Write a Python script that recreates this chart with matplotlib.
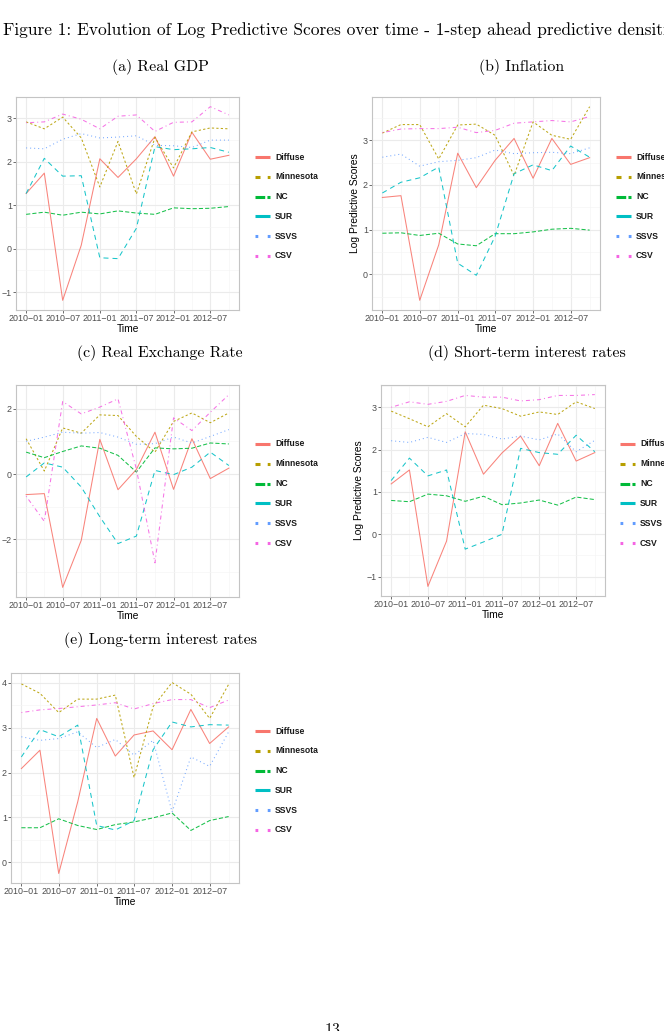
import matplotlib
matplotlib.use('Agg')
import matplotlib.pyplot as plt
import matplotlib.dates as mdates
from matplotlib.ticker import MultipleLocator
from matplotlib.lines import Line2D
import pandas as pd

# quarterly forecast origins
quarters = pd.date_range('2010-01-01', periods=12, freq='QS')
models = ['Diffuse', 'Minnesota', 'NC', 'SUR', 'SSVS', 'CSV']

# log predictive scores, one dict per variable
gdp = {
    'Diffuse':   [1.27, 1.74, -1.19, 0.08, 2.07, 1.64, 2.07, 2.58, 1.67, 2.68, 2.06, 2.15],
    'Minnesota': [2.92, 2.76, 3.03, 2.55, 1.42, 2.47, 1.26, 2.56, 1.86, 2.69, 2.78, 2.76],
    'NC':        [0.79, 0.84, 0.77, 0.84, 0.80, 0.87, 0.82, 0.79, 0.94, 0.92, 0.93, 0.97],
    'SUR':       [1.27, 2.08, 1.67, 1.68, -0.21, -0.23, 0.47, 2.35, 2.28, 2.30, 2.33, 2.22],
    'SSVS':      [2.32, 2.30, 2.52, 2.65, 2.55, 2.57, 2.60, 2.38, 2.37, 2.33, 2.50, 2.50],
    'CSV':       [2.90, 2.92, 3.10, 2.98, 2.76, 3.05, 3.08, 2.70, 2.91, 2.92, 3.27, 3.08],
}
inflation = {
    'Diffuse':   [1.72, 1.76, -0.58, 0.66, 2.71, 1.94, 2.55, 3.04, 2.15, 3.04, 2.46, 2.61],
    'Minnesota': [3.16, 3.35, 3.35, 2.58, 3.34, 3.36, 3.11, 2.21, 3.41, 3.11, 3.02, 3.75],
    'NC':        [0.92, 0.93, 0.87, 0.92, 0.68, 0.64, 0.91, 0.91, 0.95, 1.01, 1.03, 0.99],
    'SUR':       [1.82, 2.06, 2.16, 2.40, 0.25, -0.02, 0.85, 2.25, 2.45, 2.32, 2.87, 2.62],
    'SSVS':      [2.62, 2.69, 2.42, 2.52, 2.55, 2.61, 2.78, 2.70, 2.72, 2.73, 2.70, 2.83],
    'CSV':       [3.17, 3.25, 3.26, 3.26, 3.29, 3.17, 3.22, 3.38, 3.41, 3.44, 3.41, 3.53],
}
exchange = {
    'Diffuse':   [-0.63, -0.60, -3.47, -2.03, 1.06, -0.48, 0.14, 1.28, -0.47, 1.08, -0.14, 0.18],
    'Minnesota': [1.08, 0.09, 1.41, 1.25, 1.81, 1.79, 1.15, 0.67, 1.61, 1.87, 1.57, 1.87],
    'NC':        [0.67, 0.50, 0.69, 0.86, 0.79, 0.57, 0.06, 0.80, 0.77, 0.79, 0.95, 0.92],
    'SUR':       [-0.09, 0.34, 0.21, -0.40, -1.31, -2.13, -1.90, 0.11, -0.02, 0.21, 0.67, 0.26],
    'SSVS':      [1.00, 1.13, 1.28, 1.25, 1.27, 1.13, 0.91, 0.93, 1.13, 0.95, 1.15, 1.36],
    'CSV':       [-0.68, -1.45, 2.22, 1.84, 2.05, 2.30, 0.15, -2.72, 1.72, 1.33, 1.89, 2.43],
}
short_rate = {
    'Diffuse':   [1.19, 1.52, -1.23, -0.16, 2.42, 1.42, 1.92, 2.32, 1.62, 2.62, 1.73, 1.93],
    'Minnesota': [2.91, 2.73, 2.54, 2.85, 2.54, 3.05, 2.97, 2.79, 2.89, 2.83, 3.13, 2.97],
    'NC':        [0.80, 0.77, 0.95, 0.91, 0.78, 0.90, 0.70, 0.74, 0.81, 0.69, 0.88, 0.82],
    'SUR':       [1.27, 1.80, 1.38, 1.52, -0.35, -0.18, 0.00, 2.03, 1.93, 1.89, 2.34, 1.95],
    'SSVS':      [2.21, 2.17, 2.29, 2.17, 2.38, 2.36, 2.25, 2.32, 2.23, 2.37, 1.95, 2.22],
    'CSV':       [3.00, 3.13, 3.07, 3.14, 3.28, 3.24, 3.24, 3.15, 3.18, 3.28, 3.28, 3.30],
}
long_rate = {
    'Diffuse':   [2.09, 2.50, -0.25, 1.35, 3.21, 2.37, 2.84, 2.93, 2.51, 3.41, 2.65, 3.02],
    'Minnesota': [3.98, 3.77, 3.34, 3.64, 3.64, 3.73, 1.89, 3.47, 4.01, 3.75, 3.21, 3.97],
    'NC':        [0.77, 0.77, 0.97, 0.82, 0.73, 0.84, 0.90, 0.99, 1.10, 0.71, 0.93, 1.02],
    'SUR':       [2.35, 2.96, 2.80, 3.06, 0.82, 0.72, 0.93, 2.51, 3.13, 3.02, 3.07, 3.06],
    'SSVS':      [2.80, 2.72, 2.76, 2.91, 2.56, 2.74, 2.39, 2.72, 1.12, 2.35, 2.14, 2.91],
    'CSV':       [3.34, 3.40, 3.43, 3.47, 3.51, 3.56, 3.42, 3.54, 3.63, 3.63, 3.45, 3.62],
}

# ggplot hue palette and linetypes
colors = ['#F8766D', '#B79F00', '#00BA38', '#00BFC4', '#619CFF', '#F564E3']
dashes = [None, (1.6, 1.6), (3.0, 1.5), (3.6, 2.9), (0.7, 2.2), (0.7, 2.2, 2.9, 2.2)]
key_dashes = [None, (3.6, 5.2), (7.0, 1.6), None, (2.0, 6.8), (2.0, 6.8)]

plt.rcParams['font.family'] = 'Liberation Sans'
plt.rcParams['lines.scale_dashes'] = False

W, H = 664, 1031
fig = plt.figure(figsize=(W / 100, H / 100), dpi=100)
fig.patch.set_facecolor('white')


def px_axes(x0, y0, x1, y1):
    return fig.add_axes([x0 / W, 1 - y1 / H, (x1 - x0) / W, (y1 - y0) / H])


def draw_panel(rect, data, step, ylabel, legend_x, legend_y):
    ax = px_axes(*rect)
    for name, c, d in zip(models, colors, dashes):
        line, = ax.plot(quarters, data[name], color=c, lw=0.75, alpha=0.9)
        if d is not None:
            line.set_dashes(d)

    # ggplot style 5% expansion
    allv = [v for name in models for v in data[name]]
    lo, hi = min(allv), max(allv)
    pad = (hi - lo) * 0.05
    ax.set_ylim(lo - pad, hi + pad)
    span = quarters[-1] - quarters[0]
    ax.set_xlim(quarters[0] - span * 0.05, quarters[-1] + span * 0.05)

    ax.xaxis.set_major_locator(mdates.MonthLocator(bymonth=[1, 7]))
    ax.xaxis.set_minor_locator(mdates.MonthLocator(bymonth=[4, 10]))
    ax.xaxis.set_major_formatter(mdates.DateFormatter('%Y\u2212%m'))
    ax.yaxis.set_major_locator(MultipleLocator(step))
    ax.yaxis.set_minor_locator(MultipleLocator(step / 2))

    ax.grid(which='major', color='#EBEBEB', lw=0.8)
    ax.grid(which='minor', color='#F5F5F5', lw=0.5)
    ax.set_axisbelow(True)
    for s in ax.spines.values():
        s.set_color('#C4C4C4')
        s.set_linewidth(0.8)
    ax.tick_params(which='major', length=2.0, width=0.6, color='#555555',
                   labelsize=6.4, labelcolor='#4D4D4D', pad=1)
    ax.tick_params(which='minor', length=0)
    ax.set_xlabel('Time', fontsize=7.4, labelpad=0.5)
    if ylabel:
        ax.set_ylabel('Log Predictive Scores', fontsize=7.4, labelpad=2)

    # legend drawn as key segments + labels
    for i, (name, c, d) in enumerate(zip(models, colors, key_dashes)):
        y = 1 - (legend_y + i * 19.8) / H
        key = Line2D([(legend_x - 20) / W, (legend_x - 5) / W], [y, y],
                     transform=fig.transFigure, color=c, lw=2.2,
                     solid_capstyle='butt', dash_capstyle='butt')
        if d is not None:
            key.set_dashes(d)
        fig.add_artist(key)
        fig.text(legend_x / W, y, name, fontsize=6.2, fontweight='bold',
                 color='#1A1A1A', va='center', ha='left')
    return ax


draw_panel((16, 97, 239, 310), gdp, 1, False, 275, 157)
draw_panel((372, 97, 600, 310), inflation, 1, True, 636, 157)
draw_panel((16, 385, 239, 597), exchange, 2, False, 275, 444)
draw_panel((381, 385, 605, 596), short_rate, 1, True, 640, 444)
draw_panel((11, 673, 239, 883), long_rate, 1, False, 275, 731)

# LaTeX page text
cm = dict(family='cmr10', fontsize=11.4, ha='center', va='center')
fig.text(3 / W, 1 - 30 / H,
         'Figure 1: Evolution of Log Predictive Scores over time - '
         '1-step ahead predictive densities',
         family='cmr10', fontsize=12.5, ha='left', va='center')
fig.text(160 / W, 1 - 67 / H, '(a) Real GDP', **cm)
fig.text(522 / W, 1 - 67 / H, '(b) Inflation', **cm)
fig.text(160 / W, 1 - 353 / H, '(c) Real Exchange Rate', **cm)
fig.text(527 / W, 1 - 353 / H, '(d) Short-term interest rates', **cm)
fig.text(161 / W, 1 - 640 / H, '(e) Long-term interest rates', **cm)
fig.text(332 / W, 1 - 1030 / H, '13', **cm)

fig.savefig('out.png', dpi=100, facecolor='white')
